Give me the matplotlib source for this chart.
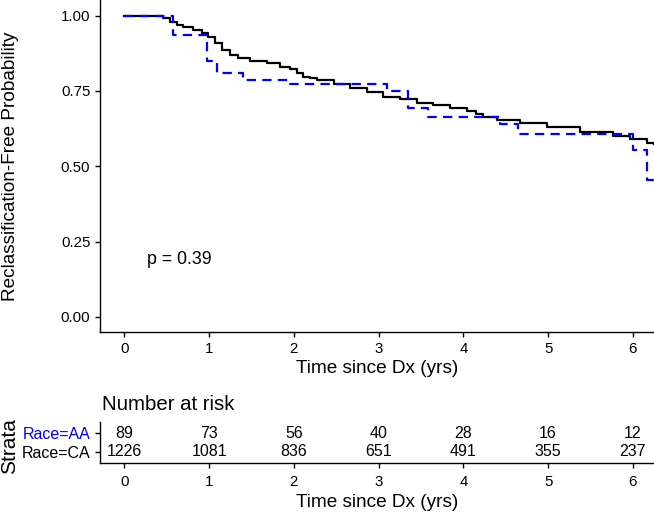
import numpy as np
import matplotlib
matplotlib.use("Agg")
import matplotlib.pyplot as plt

plt.rcParams['font.family'] = ['Liberation Sans', 'DejaVu Sans']

# Kaplan-Meier estimates (time in yrs, survival)
ca_time = [0, 0.30, 0.46, 0.54, 0.62, 0.69, 0.81, 0.92, 0.99, 1.07, 1.15, 1.25, 1.34,
           1.48, 1.68, 1.84, 1.96, 2.04, 2.11, 2.19, 2.27, 2.47, 2.66, 2.86, 3.05,
           3.25, 3.45, 3.64, 3.84, 4.04, 4.15, 4.23, 4.40, 4.67, 4.99, 5.38, 5.77,
           5.97, 6.17, 6.25]
ca_surv = [1.0, 0.998, 0.993, 0.98, 0.969, 0.962, 0.953, 0.944, 0.93, 0.908, 0.886,
           0.87, 0.859, 0.851, 0.844, 0.829, 0.822, 0.809, 0.798, 0.792, 0.788, 0.774,
           0.759, 0.748, 0.731, 0.723, 0.71, 0.702, 0.693, 0.682, 0.672, 0.663, 0.654,
           0.643, 0.629, 0.615, 0.599, 0.59, 0.579, 0.575]

aa_time = [0, 0.57, 0.98, 1.09, 1.40, 1.96, 3.10, 3.35, 3.58, 4.43, 4.65, 6.00, 6.17, 6.25]
aa_surv = [1.0, 0.936, 0.85, 0.809, 0.787, 0.774, 0.751, 0.693, 0.665, 0.641, 0.607,
           0.555, 0.455, 0.455]

# number at risk
risk_times = [0, 1, 2, 3, 4, 5, 6]
risk_aa = [89, 73, 56, 40, 28, 16, 12]
risk_ca = [1226, 1081, 836, 651, 491, 355, 237]
strata = ["Race=AA", "Race=CA"]
strata_cols = ["#0000FF", "black"]

W, H = 654, 512
fig = plt.figure(figsize=(W / 100, H / 100), dpi=100)

def spine_style(ax):
    for s in ["top", "right"]:
        ax.spines[s].set_visible(False)
    for s in ["left", "bottom"]:
        ax.spines[s].set_linewidth(1.0)
    ax.tick_params(length=3.5, width=1.0, labelsize=10.8, colors="black")

# main KM plot
ax = fig.add_axes([100 / W, 1 - 332 / H, 554 / W, 332 / H])
ax.step(ca_time, ca_surv, where="post", color="black", lw=1.6)
ax.step(aa_time, aa_surv, where="post", color="#0000FF", lw=1.6, dashes=(4.2, 2.8))
ax.set_xlim(-0.287, 6.25)
ax.set_ylim(-0.05, 1.052)
ax.set_xticks(risk_times)
ax.set_yticks([0, 0.25, 0.5, 0.75, 1.0])
ax.set_yticklabels(["0.00", "0.25", "0.50", "0.75", "1.00"])
spine_style(ax)
ax.set_xlabel("Time since Dx (yrs)", fontsize=13.7, labelpad=3)
ax.set_ylabel("Reclassification-Free Probability", fontsize=13.7)
ax.yaxis.set_label_coords(-0.146, 0.5)
ax.text(0.27, 0.19, "p = 0.39", fontsize=12.8, va="center", ha="left")

# risk table
tab = fig.add_axes([100 / W, 1 - 463 / H, 554 / W, 41 / H])
for x, a, c in zip(risk_times, risk_aa, risk_ca):
    tab.text(x, 2, str(a), ha="center", va="center", fontsize=11.5)
    tab.text(x, 1, str(c), ha="center", va="center", fontsize=11.5)
tab.set_xlim(-0.287, 6.25)
tab.set_ylim(0.4, 2.6)
tab.set_xticks(risk_times)
tab.set_yticks([2, 1])
tab.set_yticklabels(strata)
spine_style(tab)
tab.tick_params(axis="y", labelsize=11.5)
tab.tick_params(axis="x", pad=5)
for lab, col in zip(tab.get_yticklabels(), strata_cols):
    lab.set_color(col)
tab.set_xlabel("Time since Dx (yrs)", fontsize=13.7, labelpad=4)
fig.text(102 / W, 1 - 405 / H, "Number at risk", fontsize=14.7, ha="left", va="center")
fig.text(10 / W, 1 - 446 / H, "Strata", fontsize=15, rotation=90,
         ha="center", va="center")

fig.savefig("out.png", dpi=100)
